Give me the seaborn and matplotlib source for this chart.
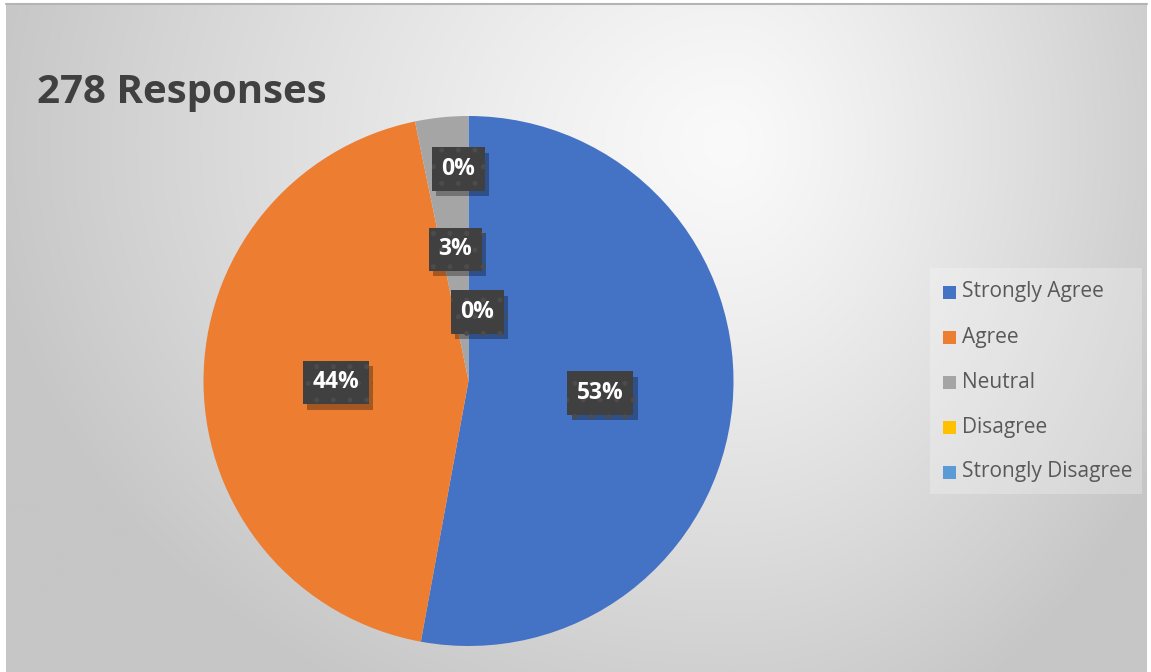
import numpy as np
import matplotlib
matplotlib.use("Agg")
import matplotlib.pyplot as plt
import matplotlib.patheffects as pe
import seaborn as sns
from matplotlib.patches import Rectangle

# ---- data ----
categories = ["Strongly Agree", "Agree", "Neutral", "Disagree", "Strongly Disagree"]
counts = [147, 122, 9, 0, 0]
title_text = "278 Responses"

# ---- style ----
colors = sns.color_palette(["#4472C4", "#ED7D31", "#A5A5A5", "#FFC000", "#5B9BD5"])
label_radius = [0.5, 0.5, 0.5, 0.8, 0.26]
label_dx_px = [0, 0, 0, -10, 9]

sns.set_theme(style="white")
plt.rcParams["font.family"] = ["Open Sans", "DejaVu Sans"]
plt.rcParams["hatch.linewidth"] = 1.2

W, H = 1151, 672
fig = plt.figure(figsize=(W / 100, H / 100), dpi=100)
fig.patch.set_facecolor("white")

# background gradient
bg = fig.add_axes([6 / W, 0, (W - 10) / W, (H - 4) / H])
bg.set_axis_off()
yy, xx = np.mgrid[0:H, 0:W].astype(float)
cx, cy = 730.0, 140.0
sx = np.where(xx > cx, 500.0, 760.0)
d = np.sqrt(((xx - cx) / sx) ** 2 + ((yy - cy) / 640.0) ** 2)
v = 250 - (250 - 198) * np.clip(d, 0, 1) ** 1.2
img = np.dstack([v, v, v]) / 255.0
bg.imshow(img, aspect="auto", extent=[0, 1, 0, 1], origin="upper")
bg.set_xlim(0, 1)
bg.set_ylim(0, 1)
bg.plot([0, 1], [1, 1], color="#b4b4b4", lw=1.5, transform=bg.transAxes, clip_on=False)

# pie axes
cxp, cyp, r = 468.5, 381.0, 265.0
ax = fig.add_axes([(cxp - r) / W, (H - cyp - r) / H, 2 * r / W, 2 * r / H])
ax.set_axis_off()
wedges, _ = ax.pie(counts, colors=colors, startangle=90, counterclock=False,
                   radius=1.0, wedgeprops=dict(linewidth=0))
ax.set_xlim(-1, 1)
ax.set_ylim(-1, 1)

total = sum(counts)
cum = 0
for i, c in enumerate(counts):
    mid = (cum + c / 2) / total
    cum += c
    ang = np.deg2rad(90 - 360 * mid)
    rr = label_radius[i]
    x = rr * np.cos(ang) + label_dx_px[i] / r
    y = rr * np.sin(ang)
    pct = f"{round(100 * c / total)}%"
    t = ax.text(x, y, pct, ha="center", va="center", fontsize=16.5, fontweight="bold",
                color="white",
                bbox=dict(boxstyle="square,pad=0.42", facecolor="#404040",
                          edgecolor="#4c4c4c", linewidth=0, hatch="."))
    t.get_bbox_patch().set_path_effects(
        [pe.withSimplePatchShadow(offset=(3, -4), shadow_rgbFace="black", alpha=0.3),
         pe.Normal()])

# title
fig.text(37 / W, 1 - 103 / H, title_text, fontsize=29, fontweight="bold",
         color="#404040", ha="left", va="baseline")

# legend
leg_ax = fig.add_axes([0, 0, 1, 1], facecolor="none")
leg_ax.set_axis_off()
leg_ax.set_xlim(0, W)
leg_ax.set_ylim(H, 0)
leg_ax.add_patch(Rectangle((930, 268), 212, 226, facecolor="white", alpha=0.25,
                           edgecolor="none"))
for i, name in enumerate(categories):
    yc = 292 + i * 45
    leg_ax.add_patch(Rectangle((943, yc - 6.5), 13, 13, facecolor=colors[i],
                               edgecolor="none"))
    leg_ax.text(962, yc, name, fontsize=15, color="#595959", ha="left",
                va="center")

fig.savefig("out.png", dpi=100)
